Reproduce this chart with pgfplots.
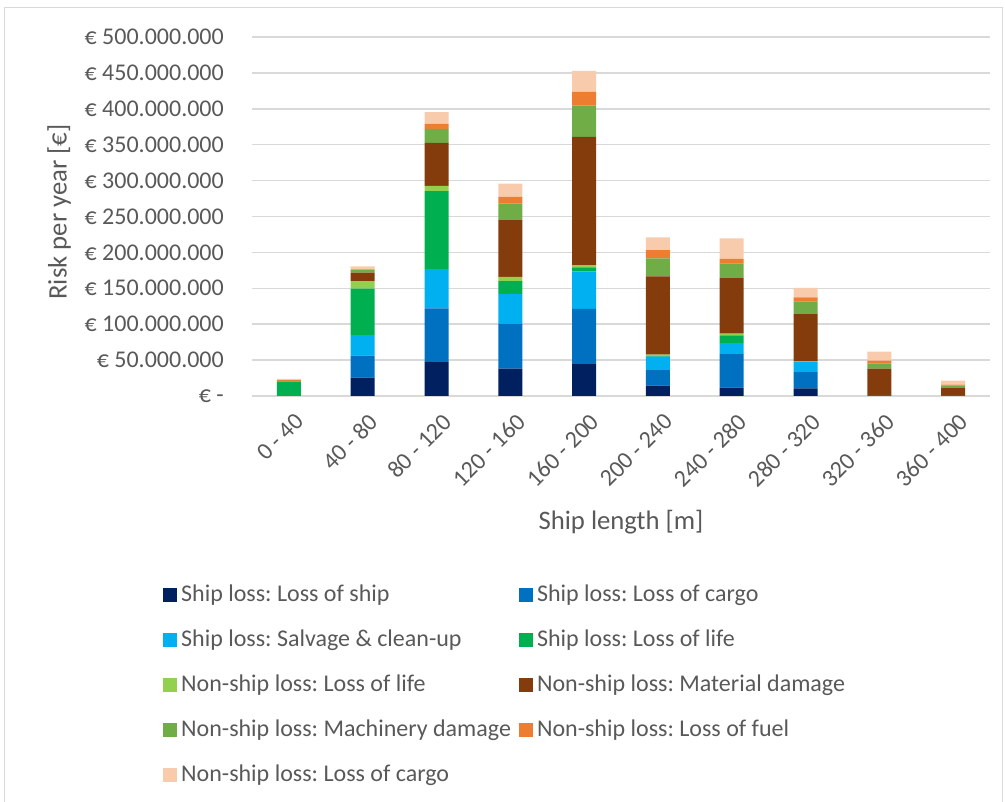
\documentclass[border=0pt]{standalone}
\usepackage{pgfplots}
\usepackage{pgfplotstable}
\pgfplotsset{compat=1.18}
\usepackage{fontspec}
\setmainfont{Carlito}
\frenchspacing
\definecolor{txt}{HTML}{595959}
\definecolor{gridc}{HTML}{D9D9D9}
\definecolor{cA}{HTML}{002060}
\definecolor{cB}{HTML}{0070C0}
\definecolor{cC}{HTML}{00B0F0}
\definecolor{cD}{HTML}{00B050}
\definecolor{cE}{HTML}{92D050}
\definecolor{cF}{HTML}{843C0C}
\definecolor{cG}{HTML}{70AD47}
\definecolor{cH}{HTML}{ED7D31}
\definecolor{cI}{HTML}{F8CBAD}
\pgfplotsset{sqlegend/.style={legend image code/.code={\fill[##1] (0bp,-7bp) rectangle (14bp,7bp);}}}
\pgfplotstableread{
x ship cargo salv slife nlife mat mach fuel ncargo
0 0    0    0    20    0.5  0.3   0.3  1.0  1.7
1 25.5 30.6 28.8 64.5  10.7 11.6  3.7  1.0  4.0
2 48.2 73.8 54.7 108.6 7.4  59.8  19.5 7.0  16.2
3 38.0 62.2 41.7 18.1  6.0  79.8  22.2 9.4  18.5
4 45.5 76.0 52.0 5.5   3.3  178.6 43.6 19.0 29.2
5 14.4 22.7 17.6 1.0   2.0  109.0 25.0 11.6 17.6
6 11.6 47.8 14.3 10.7  2.3  78.0  19.9 6.5  28.3
7 10.7 22.7 14.4 0     0.5  66.3  17.1 5.6  13.4
8 0    0    0    0     0.3  37.7  7.5  3.7  12.5
9 0    0    0    0     0.2  11.4  2.8  1.4  5.5
}\datatable
\begin{document}
\begin{tikzpicture}
\useasboundingbox (0bp,0bp) rectangle (1005bp,802bp);
\draw[gridc, line width=1bp] (4bp,794bp) rectangle (1002bp,-20bp);
\begin{axis}[
  at={(252bp,406bp)}, anchor=south west,
  scale only axis, width=738bp, height=359bp,
  xmin=-0.5, xmax=9.5, ymin=0, ymax=500,
  ybar stacked, bar width=24bp,
  axis line style={draw=none},
  major tick length=0pt,
  ymajorgrids, grid style={color=gridc, line width=1.5bp},
  ytick={0,50,...,500},
  yticklabels={€ -\hspace{17bp},€ 50.000.000,€ 100.000.000,€ 150.000.000,€ 200.000.000,€ 250.000.000,€ 300.000.000,€ 350.000.000,€ 400.000.000,€ 450.000.000,€ 500.000.000},
  xtick={0,...,9},
  xticklabels={0 - 40,40 - 80,80 - 120,120 - 160,160 - 200,200 - 240,240 - 280,280 - 320,320 - 360,360 - 400},
  tick label style={font=\fontsize{24bp}{28bp}\selectfont, text=txt},
  yticklabel style={anchor=east, inner sep=0pt, xshift=-28bp},
  xticklabel style={xshift=5bp, yshift=-16bp, rotate=45, anchor=north east, inner sep=0pt},
  xlabel={Ship length [m]},
  ylabel={Risk per year [€]},
  label style={font=\fontsize{26.7bp}{30bp}\selectfont, text=txt},
  xlabel style={at={(axis description cs:0.5,-0.351)}, anchor=center},
  ylabel style={at={(axis description cs:-0.2615,0.5125)}, anchor=center},
  legend columns=2,
  legend cell align=left,
  legend style={at={(axis description cs:-0.1247,-0.515)}, anchor=north west,
    draw=none, fill=none, font=\fontsize{24bp}{28bp}\selectfont, text=txt,
    row sep=21bp,
    nodes={inner sep=1bp, text height=17bp, text depth=5bp},
    /tikz/every even column/.append style={column sep=7bp},
    /tikz/every odd column/.append style={column sep=3bp}},
]
\addplot[fill=cA, draw=none, sqlegend] table[x=x,y=ship]{\datatable};
\addplot[fill=cB, draw=none, sqlegend] table[x=x,y=cargo]{\datatable};
\addplot[fill=cC, draw=none, sqlegend] table[x=x,y=salv]{\datatable};
\addplot[fill=cD, draw=none, sqlegend] table[x=x,y=slife]{\datatable};
\addplot[fill=cE, draw=none, sqlegend] table[x=x,y=nlife]{\datatable};
\addplot[fill=cF, draw=none, sqlegend] table[x=x,y=mat]{\datatable};
\addplot[fill=cG, draw=none, sqlegend] table[x=x,y=mach]{\datatable};
\addplot[fill=cH, draw=none, sqlegend] table[x=x,y=fuel]{\datatable};
\addplot[fill=cI, draw=none, sqlegend] table[x=x,y=ncargo]{\datatable};
\legend{Ship loss: Loss of ship,Ship loss: Loss of cargo,Ship loss: Salvage \& clean-up,Ship loss: Loss of life,Non-ship loss: Loss of life,Non-ship loss: Material damage,Non-ship loss: Machinery damage,Non-ship loss: Loss of fuel,Non-ship loss: Loss of cargo}
\end{axis}
\end{tikzpicture}
\end{document}
